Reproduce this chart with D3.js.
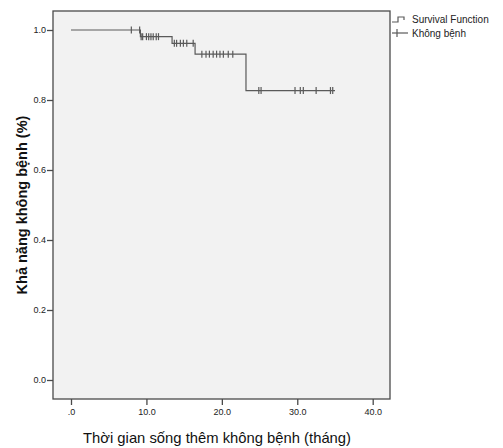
<!DOCTYPE html>
<html>
<head>
<meta charset="utf-8">
<script src="https://cdn.jsdelivr.net/npm/d3@7"></script>
<style>
  body { margin: 0; background: #fff; }
  text { font-family: "Liberation Sans", Arial, sans-serif; fill: #222; }
</style>
</head>
<body>
<div id="chart"></div>
<script>
// Kaplan-Meier steps (time in months, survival after the drop)
const stepTimes = [0, 9.2, 13.4, 16.45, 23.2]
const stepSurv = [1.0, 0.981, 0.962, 0.931, 0.827]
const endTime = 35.0
// censored observations
const censorTimes = [8.0, 9.1,
  9.3, 9.5, 10.0, 10.3, 10.6, 10.9, 11.3, 11.6,
  13.7, 14.0, 14.5, 14.9, 15.35, 16.2,
  17.35, 17.9, 18.35, 18.85, 19.3, 19.75, 20.2, 20.85, 21.45,
  24.9, 25.2, 29.7, 30.4, 30.8, 32.5, 34.4, 34.7]
const xTicks = [0, 10, 20, 30, 40]
const yTicks = [0, 0.2, 0.4, 0.6, 0.8, 1.0]
const legendLabels = ["Survival Function", "Không bệnh"]

const W = 503, H = 448
const frame = {left: 53, top: 11, right: 390, bottom: 399}
const lineColor = "#5a5a5a"

const svg = d3.select("#chart").append("svg")
  .attr("width", W)
  .attr("height", H)

const x = d3.scaleLinear().domain([0, 40]).range([71, 372.7])
const y = d3.scaleLinear().domain([0, 1]).range([380, 30])

// plot area
svg.append("rect")
  .attr("x", frame.left)
  .attr("y", frame.top)
  .attr("width", frame.right - frame.left)
  .attr("height", frame.bottom - frame.top)
  .attr("fill", "#f2f2f2")
  .attr("stroke", "#4a4a4a")
  .attr("stroke-width", 1.3)

// x axis
const xAxis = svg.append("g")
  .attr("transform", `translate(0,${frame.bottom})`)
  .call(d3.axisBottom(x).tickValues(xTicks).tickSize(6).tickPadding(3.5)
    .tickFormat(d => d === 0 ? ".0" : d.toFixed(1)))
xAxis.select(".domain").remove()
xAxis.selectAll("line").attr("stroke", "#4a4a4a").attr("stroke-width", 1.3)
xAxis.selectAll("text").attr("font-size", 9).attr("font-family", null).style("fill", "#222")

// y axis
const yAxis = svg.append("g")
  .attr("transform", `translate(${frame.left},0)`)
  .call(d3.axisLeft(y).tickValues(yTicks).tickSize(6).tickPadding(1)
    .tickFormat(d => d.toFixed(1)))
yAxis.select(".domain").remove()
yAxis.selectAll("line").attr("stroke", "#4a4a4a").attr("stroke-width", 1.3)
yAxis.selectAll("text").attr("font-size", 9).attr("font-family", null).style("fill", "#222")

// axis titles
svg.append("text")
  .attr("x", 217)
  .attr("y", 443)
  .attr("text-anchor", "middle")
  .attr("font-size", 14.8)
  .style("fill", "#111")
  .text("Thời gian sống thêm không bệnh (tháng)")

svg.append("text")
  .attr("transform", `translate(27,205) rotate(-90)`)
  .attr("text-anchor", "middle")
  .attr("font-size", 14.5)
  .attr("font-weight", "bold")
  .style("fill", "#111")
  .text("Khả năng không bệnh (%)")

// survival step line
const pts = []
stepTimes.forEach((t, i) => {
  if (i > 0) pts.push([t, stepSurv[i - 1]])
  pts.push([t, stepSurv[i]])
})
pts.push([endTime, stepSurv[stepSurv.length - 1]])

svg.append("path")
  .datum(pts)
  .attr("fill", "none")
  .attr("stroke", lineColor)
  .attr("stroke-width", 1.2)
  .attr("d", d3.line().x(d => x(d[0])).y(d => y(d[1])))

function survAt(t) {
  let s = stepSurv[0]
  stepTimes.forEach((st, i) => { if (t >= st) s = stepSurv[i] })
  return s
}

svg.selectAll(".censor")
  .data(censorTimes)
  .enter()
  .append("line")
    .attr("class", "censor")
    .attr("x1", d => x(d))
    .attr("x2", d => x(d))
    .attr("y1", d => y(survAt(d)) - 3.5)
    .attr("y2", d => y(survAt(d)) + 3.5)
    .attr("stroke", lineColor)
    .attr("stroke-width", 1.2)

// legend
const lg = svg.append("g")
lg.append("path")
  .attr("d", "M392,22H398V17H404V20")
  .attr("fill", "none")
  .attr("stroke", lineColor)
  .attr("stroke-width", 1.2)
lg.append("line")
  .attr("x1", 392).attr("x2", 408).attr("y1", 33).attr("y2", 33)
  .attr("stroke", lineColor).attr("stroke-width", 1.2)
lg.append("line")
  .attr("x1", 397).attr("x2", 397).attr("y1", 29).attr("y2", 37)
  .attr("stroke", lineColor).attr("stroke-width", 1.2)
lg.selectAll("text")
  .data(legendLabels)
  .enter()
  .append("text")
    .attr("x", 412)
    .attr("y", (d, i) => 23 + i * 14)
    .attr("font-size", 10)
    .text(d => d)
</script>
</body>
</html>
